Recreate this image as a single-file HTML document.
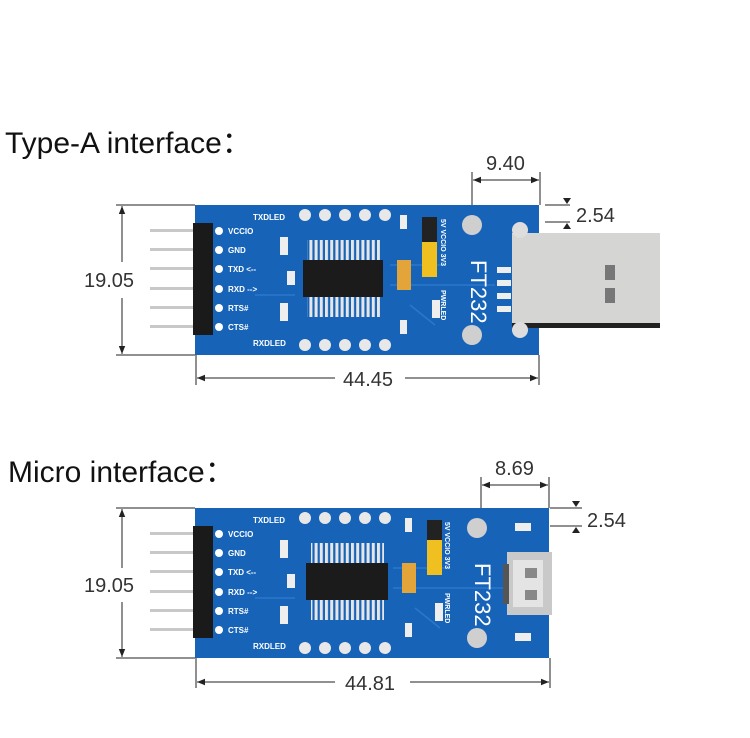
<!DOCTYPE html>
<html><head><meta charset="utf-8"><style>
html,body{margin:0;padding:0;background:#fff;}
svg{display:block;}
.t{font-family:"Liberation Sans","Noto Sans CJK SC",sans-serif;}
</style></head><body>
<svg width="750" height="738" viewBox="0 0 750 738" xmlns="http://www.w3.org/2000/svg" class="t">
<defs>
<marker id="ar" viewBox="0 0 10 10" refX="10" refY="5" markerWidth="8" markerHeight="8" orient="auto-start-reverse"><path d="M0,1 L10,5 L0,9 z" fill="#222"/></marker>
<pattern id="pins" width="5.2" height="20" patternUnits="userSpaceOnUse"><rect x="0" y="0" width="3" height="20" fill="#e6e6e6"/></pattern>
</defs>
<text x="5" y="153" font-size="30" fill="#111">Type-A interface：</text>
<text x="8" y="482" font-size="30" fill="#111">Micro interface：</text>

<!-- ===== Board 1 ===== -->
<g transform="translate(195,205)">
 <g fill="#c8c8c8"><rect x="-45" y="24" width="45" height="3"/><rect x="-45" y="43" width="45" height="3"/><rect x="-45" y="62" width="45" height="3"/><rect x="-45" y="82" width="45" height="3"/><rect x="-45" y="101" width="45" height="3"/><rect x="-45" y="120" width="45" height="3"/></g>
 <rect x="0" y="0" width="344" height="150" fill="#1763b8"/>
 <g stroke="#2a78cc" stroke-width="1.5" fill="none"><path d="M195,60 L250,60 M195,80 L300,80 M60,90 L100,90 M215,100 L240,120"/></g>
 <rect x="317" y="28" width="148" height="95" fill="#d5d5d3"/>
 <rect x="317" y="118" width="148" height="5" fill="#222"/>
 <rect x="410" y="60" width="10" height="15" fill="#777"/><rect x="410" y="83" width="10" height="15" fill="#777"/>
 <rect x="-2" y="18" width="20" height="112" fill="#1a1a1a"/>
 <g fill="#fff"><circle cx="24" cy="26" r="4"/><circle cx="24" cy="45" r="4"/><circle cx="24" cy="64" r="4"/><circle cx="24" cy="84" r="4"/><circle cx="24" cy="103" r="4"/><circle cx="24" cy="122" r="4"/></g>
 <g fill="#fff" font-size="8" font-weight="bold"><text x="33" y="29">VCCIO</text><text x="33" y="48">GND</text><text x="33" y="67">TXD &lt;--</text><text x="33" y="87">RXD --&gt;</text><text x="33" y="106">RTS#</text><text x="33" y="125">CTS#</text><text x="58" y="15">TXDLED</text><text x="58" y="141">RXDLED</text></g>
 <g fill="#e8e8e8"><circle cx="110" cy="10" r="6"/><circle cx="130" cy="10" r="6"/><circle cx="150" cy="10" r="6"/><circle cx="170" cy="10" r="6"/><circle cx="190" cy="10" r="6"/><circle cx="110" cy="140" r="6"/><circle cx="130" cy="140" r="6"/><circle cx="150" cy="140" r="6"/><circle cx="170" cy="140" r="6"/><circle cx="190" cy="140" r="6"/></g>
 <rect x="112" y="35" width="73" height="20" fill="url(#pins)"/>
 <rect x="112" y="92" width="73" height="20" fill="url(#pins)"/>
 <rect x="108" y="55" width="80" height="37" fill="#1b1b1b"/>
 <g fill="#eee"><rect x="85" y="32" width="8" height="18"/><rect x="85" y="98" width="8" height="18"/><rect x="92" y="66" width="8" height="14"/><rect x="205" y="10" width="7" height="14"/><rect x="237" y="95" width="8" height="18"/><rect x="205" y="115" width="7" height="14"/></g>
 <rect x="202" y="55" width="14" height="30" fill="#e3a43a"/>
 <rect x="227" y="12" width="15" height="25" fill="#222"/>
 <rect x="227" y="37" width="15" height="35" fill="#f0c020"/>
 <circle cx="277" cy="20" r="10" fill="#cfcfcf"/><circle cx="277" cy="130" r="10" fill="#cfcfcf"/>
 <circle cx="325" cy="25" r="8" fill="#ddd"/><circle cx="325" cy="125" r="8" fill="#ddd"/>
 <g fill="#eee"><rect x="302" y="62" width="14" height="6"/><rect x="302" y="75" width="14" height="6"/><rect x="302" y="88" width="14" height="6"/><rect x="302" y="101" width="14" height="6"/></g>
 <text transform="translate(276,55) rotate(90)" font-size="22" fill="#fff">FT232</text>
 <text transform="translate(246,14) rotate(90)" font-size="7" fill="#fff" font-weight="bold">5V VCCIO 3V3</text>
 <text transform="translate(246,85) rotate(90)" font-size="7" fill="#fff" font-weight="bold">PWRLED</text>
</g>

<!-- ===== Board 2 ===== -->
<g transform="translate(195,508)">
 <g fill="#c8c8c8"><rect x="-45" y="24" width="45" height="3"/><rect x="-45" y="43" width="45" height="3"/><rect x="-45" y="62" width="45" height="3"/><rect x="-45" y="82" width="45" height="3"/><rect x="-45" y="101" width="45" height="3"/><rect x="-45" y="120" width="45" height="3"/></g>
 <rect x="0" y="0" width="354" height="150" fill="#1763b8"/>
 <g stroke="#2a78cc" stroke-width="1.5" fill="none"><path d="M198,60 L255,60 M198,80 L315,80 M60,90 L100,90 M220,100 L245,120"/></g>
 <rect x="-2" y="18" width="20" height="112" fill="#1a1a1a"/>
 <g fill="#fff"><circle cx="24" cy="26" r="4"/><circle cx="24" cy="45" r="4"/><circle cx="24" cy="64" r="4"/><circle cx="24" cy="84" r="4"/><circle cx="24" cy="103" r="4"/><circle cx="24" cy="122" r="4"/></g>
 <g fill="#fff" font-size="8" font-weight="bold"><text x="33" y="29">VCCIO</text><text x="33" y="48">GND</text><text x="33" y="67">TXD &lt;--</text><text x="33" y="87">RXD --&gt;</text><text x="33" y="106">RTS#</text><text x="33" y="125">CTS#</text><text x="58" y="15">TXDLED</text><text x="58" y="141">RXDLED</text></g>
 <g fill="#e8e8e8"><circle cx="110" cy="10" r="6"/><circle cx="130" cy="10" r="6"/><circle cx="150" cy="10" r="6"/><circle cx="170" cy="10" r="6"/><circle cx="190" cy="10" r="6"/><circle cx="110" cy="140" r="6"/><circle cx="130" cy="140" r="6"/><circle cx="150" cy="140" r="6"/><circle cx="170" cy="140" r="6"/><circle cx="190" cy="140" r="6"/></g>
 <rect x="116" y="35" width="73" height="20" fill="url(#pins)"/>
 <rect x="116" y="92" width="73" height="20" fill="url(#pins)"/>
 <rect x="111" y="55" width="82" height="37" fill="#1b1b1b"/>
 <g fill="#eee"><rect x="85" y="32" width="8" height="18"/><rect x="85" y="98" width="8" height="18"/><rect x="92" y="66" width="8" height="14"/><rect x="210" y="10" width="7" height="14"/><rect x="240" y="95" width="8" height="18"/><rect x="210" y="115" width="7" height="14"/></g>
 <rect x="207" y="55" width="14" height="30" fill="#e3a43a"/>
 <rect x="232" y="12" width="15" height="20" fill="#222"/>
 <rect x="232" y="32" width="15" height="35" fill="#f0c020"/>
 <circle cx="282" cy="20" r="10" fill="#cfcfcf"/><circle cx="282" cy="130" r="10" fill="#cfcfcf"/>
 <rect x="312" y="44" width="45" height="63" fill="#c9c9c9"/>
 <rect x="318" y="52" width="30" height="47" fill="#e4e4e4"/>
 <rect x="308" y="56" width="6" height="40" fill="#555"/>
 <rect x="330" y="60" width="12" height="10" fill="#888"/><rect x="330" y="82" width="12" height="10" fill="#888"/>
 <g fill="#eee"><rect x="320" y="15" width="16" height="8"/><rect x="320" y="125" width="16" height="8"/></g>
 <text transform="translate(280,55) rotate(90)" font-size="22" fill="#fff">FT232</text>
 <text transform="translate(250,14) rotate(90)" font-size="7" fill="#fff" font-weight="bold">5V VCCIO 3V3</text>
 <text transform="translate(250,85) rotate(90)" font-size="7" fill="#fff" font-weight="bold">PWRLED</text>
</g>

<!-- ===== Dimensions 1 ===== -->
<g stroke="#222" stroke-width="1" fill="none">
 <line x1="116" y1="205" x2="195" y2="205"/><line x1="116" y1="355" x2="195" y2="355"/>
 <line x1="122" y1="206" x2="122" y2="262" marker-start="url(#ar)"/><line x1="122" y1="298" x2="122" y2="354" marker-end="url(#ar)"/>
 <line x1="196" y1="355" x2="196" y2="385"/><line x1="539" y1="355" x2="539" y2="385"/>
 <line x1="197" y1="378" x2="335" y2="378" marker-start="url(#ar)"/><line x1="405" y1="378" x2="538" y2="378" marker-end="url(#ar)"/>
 <line x1="472" y1="172" x2="472" y2="205"/><line x1="540" y1="172" x2="540" y2="205"/>
 <line x1="473" y1="180" x2="539" y2="180" marker-start="url(#ar)" marker-end="url(#ar)"/>
 <line x1="545" y1="205" x2="570" y2="205"/><line x1="545" y1="222" x2="570" y2="222"/>
</g>
<path d="M563,198 L571,198 L567,204 z" fill="#222"/><path d="M563,229 L571,229 L567,223 z" fill="#222"/>
<g fill="#333" font-size="20">
 <text x="84" y="287">19.05</text><text x="343" y="386">44.45</text><text x="486" y="170">9.40</text><text x="576" y="222">2.54</text>
</g>

<!-- ===== Dimensions 2 ===== -->
<g stroke="#222" stroke-width="1" fill="none">
 <line x1="116" y1="508" x2="195" y2="508"/><line x1="116" y1="658" x2="195" y2="658"/>
 <line x1="122" y1="509" x2="122" y2="568" marker-start="url(#ar)"/><line x1="122" y1="602" x2="122" y2="657" marker-end="url(#ar)"/>
 <line x1="196" y1="658" x2="196" y2="688"/><line x1="550" y1="658" x2="550" y2="688"/>
 <line x1="197" y1="682" x2="335" y2="682" marker-start="url(#ar)"/><line x1="410" y1="682" x2="549" y2="682" marker-end="url(#ar)"/>
 <line x1="481" y1="477" x2="481" y2="508"/><line x1="549" y1="477" x2="549" y2="508"/>
 <line x1="482" y1="485" x2="548" y2="485" marker-start="url(#ar)" marker-end="url(#ar)"/>
 <line x1="550" y1="508" x2="582" y2="508"/><line x1="550" y1="526" x2="582" y2="526"/>
</g>
<path d="M572,501 L580,501 L576,507 z" fill="#222"/><path d="M572,533 L580,533 L576,527 z" fill="#222"/>
<g fill="#333" font-size="20">
 <text x="84" y="592">19.05</text><text x="345" y="690">44.81</text><text x="495" y="475">8.69</text><text x="587" y="527">2.54</text>
</g>
</svg>
</body></html>
